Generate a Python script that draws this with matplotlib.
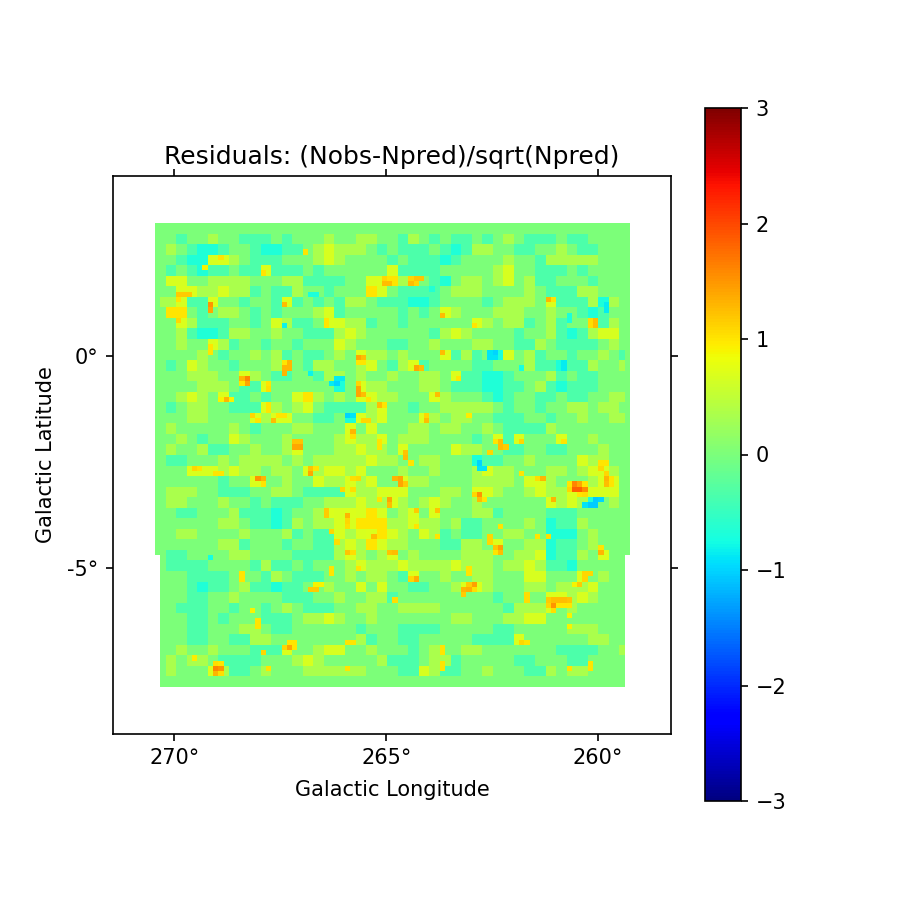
import numpy as np
import matplotlib
matplotlib.use('Agg')
import matplotlib.pyplot as plt

# residual map, one digit per 2x2 bins (3 = zero, step 0.33)
coarse_rows = [
    "33333 33333 33333 33333 33333 33333 33333 33333 33333",
    "33233 43322 23233 34334 43324 32322 32343 22232 23333",
    "34321 12332 11223 45444 32322 23212 44332 23343 22333",
    "33211 55432 22333 45433 33232 22123 33343 32444 44333",
    "32321 22322 32223 23333 33522 22333 33453 32223 23333",
    "35533 44443 33442 22233 56643 32134 43453 42233 32333",
    "33344 45442 32243 32333 65322 22344 43333 43222 44333",
    "44522 33323 32223 23244 32221 12333 32344 43322 24443",
    "36632 34432 32333 45233 33323 23443 33444 33433 21233",
    "33342 22332 35422 34544 23323 33333 44344 23423 33243",
    "33421 12443 34332 22454 33333 32454 33332 33421 24553",
    "33433 24233 23323 33543 33223 34333 44332 24322 22343",
    "33334 32334 34232 23433 44343 33224 23353 42332 33432",
    "32354 33233 34332 44334 53242 23333 22333 42212 24334",
    "33344 43324 32233 24434 33433 44332 21123 33423 22333",
    "33334 44322 43333 33334 44333 44322 21122 34212 22333",
    "33454 32223 23356 43433 54433 33433 32123 32232 23344",
    "32344 33222 44345 32222 44332 33444 44323 32334 43443",
    "33344 33332 45533 22332 45333 44344 33222 33233 43344",
    "34333 33432 33344 33343 53334 43443 34322 22433 33333",
    "33432 33543 33433 33454 43344 43333 23322 33333 34333",
    "34334 22334 33443 33445 44333 33354 43322 33223 33433",
    "32233 34344 44343 44444 54433 44333 32233 43333 54433",
    "33345 54544 34433 45545 33343 34333 45443 33443 45543",
    "33333 32332 33433 54434 53334 43333 44443 54433 34653",
    "34443 32223 34432 22234 45553 33443 35433 45443 35553",
    "34433 34332 32223 34445 44543 45433 43333 33445 43343",
    "33223 33422 21233 45555 65345 33333 44233 33222 33333",
    "33333 34432 21243 44556 66445 44342 23333 43122 43333",
    "33443 33343 33423 22545 56543 54232 23344 33111 34333",
    "33333 34423 33233 22454 65443 33224 43333 44122 34333",
    "32233 33443 33322 22454 34534 33334 44334 45122 43433",
    "32222 33332 42232 33345 44454 44454 44344 54221 33333",
    "33322 22333 24322 23343 44323 33433 44333 55333 43433",
    "33321 22342 21223 34335 35332 23343 44333 44344 45333",
    "33322 33433 33222 33433 44233 33333 33233 33444 54333",
    "33222 33233 23432 22334 43344 44333 33324 44434 33333",
    "33322 32333 22234 45433 43333 33344 33344 55333 33333",
    "33322 33344 32233 33332 33322 22333 33223 33334 44333",
    "33322 33224 43333 33334 23322 33333 22223 33333 34433",
    "33433 43332 22233 45533 43332 34334 43333 33322 22334",
    "34344 32222 33345 43333 34222 34423 33332 23332 23333",
    "34333 54223 43334 44444 33322 54223 34333 22434 43333",
    "33333 33333 33333 33333 33333 33333 33333 33333 33333",
]

# 2x2 blocks around the bright and dark spots: (coarse column, coarse row)
warm_blocks = [
    (5,7),(2,6),(3,6),(12,7),(2,9),(6,3),(10,4),(21,5),(16,9),(5,11),(12,13),(8,14),(10,15),(6,16),(19,12),
    (19,15),(19,16),(21,17),(10,17),(11,18),(9,18),(19,18),(18,19),(13,21),(21,20),(24,5),(27,8),(30,9),(37,7),
    (41,9),(27,12),(24,13),(28,14),(26,16),(25,18),(32,20),(34,20),(38,20),(23,21),(3,23),(9,24),(14,23),(18,24),
    (18,25),(22,26),(16,27),(18,27),(20,29),(18,31),(5,42),(12,40),(23,24),(30,25),(39,25),(40,25),(42,24),(32,30),
    (42,31),(24,33),(30,34),(29,34),(37,36),(37,35),(38,35),(40,33),(34,39),(36,24),(37,26),(22,31),(26,27),
]
cool_blocks = [(41,26),(17,15),(18,18),(32,12),(42,7),(38,13),(30,22)]
warm_value = 0.7
cool_value = -0.7

# single bins that stand out: (column, row, value)
hot_cells = [
    (10,15,1.5),(10,16,1.4),(4,13,1.15),(5,13,1.15),(6,13,1.15),(4,14,1.0),(24,15,1.25),(4,18,1.1),
    (12,6,1.0),(20,9,1.0),(9,8,0.9),(28,5,1.0),(43,11,1.25),(44,11,1.25),(43,10,1.1),(32,18,1.0),(32,19,1.0),
    (10,23,1.0),(10,24,1.0),(25,26,1.3),(24,27,1.3),(24,28,1.3),(25,27,1.3),(24,26,1.0),
    (17,29,1.6),(16,29,1.3),(17,30,1.4),(16,30,1.0),(21,30,1.0),(21,31,1.05),(13,33,1.3),(12,33,0.9),(14,33,0.9),
    (38,25,1.4),(39,25,1.25),(38,26,1.0),(39,26,1.0),(38,30,1.1),(38,31,1.4),(38,32,1.4),(39,32,1.25),
    (42,34,1.25),(43,34,1.0),(40,33,1.0),(21,34,1.0),(21,35,1.0),(22,37,1.25),(23,36,1.0),(24,36,1.0),
    (18,36,1.1),(19,37,1.0),(39,37,1.1),(40,37,1.1),(37,39,1.3),(37,40,1.05),(26,41,1.2),(27,41,1.2),
    (26,42,1.4),(27,42,1.4),(42,41,1.0),(42,42,1.0),
    (34,30,-1.0),(33,30,-0.85),(35,29,-0.85),(34,29,-0.85),(36,36,-1.0),(37,36,-0.9),(24,19,-0.8),(29,28,-0.8),
    (29,13,-0.7),(30,13,-0.7),
    (48,10,1.1),(49,10,1.2),(50,10,1.2),(48,11,1.25),(49,11,1.1),(54,17,1.25),(60,19,1.0),(74,14,1.3),(75,14,1.0),
    (82,18,1.05),(82,19,1.05),(83,18,1.25),(83,19,1.25),(54,24,1.25),(49,27,1.4),(50,27,1.25),(57,29,1.0),
    (53,32,1.25),(51,36,1.1),(51,37,1.25),(59,36,0.95),(65,41,1.25),(65,42,1.25),(66,42,1.15),(64,41,1.0),
    (63,43,1.1),(69,41,1.1),(77,41,1.0),(47,43,1.2),
    (85,15,-0.85),(85,16,-0.85),(64,24,-1.0),(63,24,-0.9),(63,25,-0.9),(64,25,-0.9),(77,26,-0.85),(77,27,-0.85),
    (78,17,-0.7),(78,18,-0.7),(69,27,-0.75),(54,10,-0.65),(54,11,-0.65),(52,12,-0.65),
    (7,46,1.1),(8,46,1.0),(11,47,1.0),(12,47,1.0),(19,48,1.5),(20,48,1.3),(20,49,1.0),(29,46,1.2),(29,47,1.4),(30,46,1.0),
    (37,48,1.05),(38,48,1.1),(35,50,1.1),(37,50,1.05),(44,52,1.4),(44,53,1.25),(42,52,1.0),(32,54,1.15),(32,55,1.15),
    (36,55,1.3),(36,56,1.1),(36,57,1.05),(33,58,1.1),(41,59,1.25),(41,60,1.0),(34,60,1.05),(36,62,1.2),(37,62,1.05),
    (44,62,1.2),(33,65,1.0),(33,66,1.0),(38,65,1.0),(16,66,1.0),(16,67,1.0),(29,69,1.15),(30,69,1.15),(30,68,0.9),(31,68,0.9),
    (19,75,1.0),(19,76,1.0),(18,73,0.9),(25,79,1.0),(26,79,1.0),(25,80,1.4),(24,80,1.1),(26,80,1.0),(20,81,1.1),
    (11,84,1.6),(12,84,1.5),(11,83,1.05),(12,83,1.0),(11,85,1.3),(12,85,1.05),(7,82,0.95),(21,84,1.0),(36,84,1.0),
    (36,79,1.0),(37,79,1.0),(10,63,-0.75),
    (47,44,1.25),(48,45,1.0),(45,48,1.3),(46,48,1.4),(46,49,1.4),(47,49,1.15),(49,54,1.15),(53,54,1.2),(49,57,1.0),
    (61,51,1.5),(60,51,1.1),(61,52,1.25),(62,52,1.0),(61,45,-1.0),(61,46,-0.9),(62,46,-0.9),(69,47,1.0),(72,48,1.05),
    (73,48,1.3),(75,52,1.3),(79,49,1.6),(79,50,1.85),(80,50,1.85),(80,49,1.4),(81,50,1.55),(78,50,1.1),(78,49,1.0),
    (81,49,1.0),(80,51,1.0),(81,51,1.05),(83,52,-1.05),(84,52,-1.0),(82,53,-1.05),(83,53,-1.05),(81,53,-0.9),
    (84,46,1.1),(85,47,1.1),(85,48,1.3),(85,49,1.25),(86,48,1.0),(86,49,1.0),(84,45,1.0),(85,45,1.0),
    (63,59,1.1),(63,60,1.1),(64,61,1.2),(65,61,1.45),(65,62,1.25),(64,62,1.0),(72,59,1.0),(74,59,1.05),(84,62,1.3),
    (84,61,1.0),(45,62,1.25),(65,57,1.0),(53,59,1.0),(59,65,1.0),(59,66,1.0),(49,67,1.35),(48,67,1.1),
    (60,68,1.45),(59,68,1.15),(59,69,1.35),(58,69,1.3),(58,70,1.15),(60,69,1.05),(45,71,1.05),(70,70,1.05),(70,71,1.05),
    (74,71,1.15),(75,71,1.25),(76,71,1.25),(77,71,1.25),(78,71,1.2),(75,72,1.5),(74,72,1.1),(76,72,1.0),(77,72,1.0),
    (78,72,1.0),(75,73,1.05),(78,74,0.9),(78,76,0.9),(81,67,1.1),(82,66,1.1),(80,68,1.15),(81,66,1.1),(79,68,0.9),
    (69,79,1.1),(70,79,1.0),(54,80,1.0),(54,81,1.0),(54,83,1.0),(54,84,1.0),(82,83,1.0),(82,84,1.0),(78,84,1.0),
]

lon_range = [270.46, 259.26]
lat_range = [-7.81, 3.14]
lon_ticks = [270, 265, 260]
lat_ticks = [0, -5]
cbar_ticks = [-3, -2, -1, 0, 1, 2, 3]

grid = np.array([[int(c) for c in r.replace(' ', '')] for r in coarse_rows], dtype=float)
grid = (grid - 3) * 0.33
for col, row in warm_blocks:
    grid[row, col] = warm_value
for col, row in cool_blocks:
    grid[row, col] = cool_value
residuals = np.kron(grid, np.ones((2, 2)))
for col, row, val in hot_cells:
    residuals[row, col] = val
# outermost bins are empty, the lower 25 rows are one bin narrower on each side
residuals[0, :] = 0
residuals[-1, :] = 0
residuals[:, [0, 89]] = 0
residuals[63:, [0, 89]] = np.nan

fig = plt.figure(figsize=(6, 6), dpi=150)
ax = fig.add_axes([113 / 900, 1 - 734 / 900, 558 / 900, 558 / 900])
im = ax.imshow(residuals, cmap='jet', vmin=-3, vmax=3, interpolation='nearest', origin='upper',
               extent=[lon_range[0], lon_range[1], lat_range[0], lat_range[1]], aspect='equal')
ax.set_xlim(271.45, 258.28)
ax.set_ylim(-8.915, 4.245)
ax.set_xticks(lon_ticks)
ax.set_xticklabels([f'{v}°' for v in lon_ticks])
ax.set_yticks(lat_ticks)
ax.set_yticklabels([f'{v}°' for v in lat_ticks])
ax.tick_params(top=True, right=True)
ax.set_xlabel('Galactic Longitude', labelpad=5.5)
ax.set_ylabel('Galactic Latitude', labelpad=5.5)
ax.set_title('Residuals: (Nobs-Npred)/sqrt(Npred)')

cax = fig.add_axes([705 / 900, 1 - 801 / 900, 36 / 900, 693 / 900])
cbar = fig.colorbar(im, cax=cax)
cbar.set_ticks(cbar_ticks)

fig.savefig('out.png', dpi=150)
